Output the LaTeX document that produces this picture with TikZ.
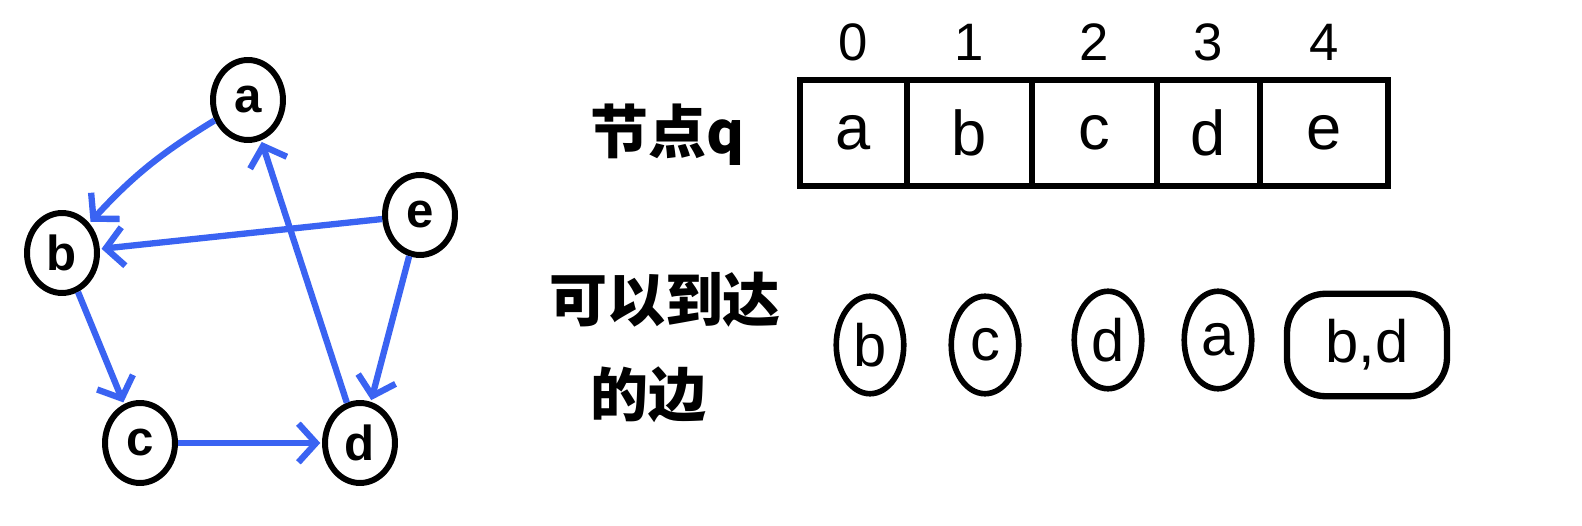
\documentclass[tikz,border=0pt]{standalone}
\usepackage{fontspec}
\setmainfont{Liberation Sans}
\newfontfamily\cjk{Noto Sans CJK SC}
\usetikzlibrary{arrows.meta,shapes.geometric}
\definecolor{edgeblue}{HTML}{3A63F2}
\tikzset{
  vertex/.style={draw,ellipse,line width=3.4pt,minimum width=1.4cm,minimum height=1.6cm,inner sep=0pt,font=\bfseries\fontsize{28}{30}\selectfont},
  edge/.style={edgeblue,line width=3.6pt,-{Straight Barb[length=10pt,width=22pt]},shorten >=1pt},
  cell/.style={draw,line width=3.4pt,minimum height=2.12cm,inner sep=0pt,font=\fontsize{36}{38}\selectfont},
  idx/.style={font=\fontsize{30}{32}\selectfont},
  label/.style={font=\cjk\bfseries\fontsize{33}{35}\selectfont},
  reach/.style={draw,ellipse,line width=3.2pt,minimum width=1.35cm,minimum height=1.95cm,inner sep=0pt,font=\fontsize{34}{36}\selectfont}
}
\begin{document}
\begin{tikzpicture}[x=0.02cm,y=-0.02cm]
  \useasboundingbox (0,0) rectangle (1582,526);
  % graph
  \node[vertex] (a) at (248,100) {a};
  \node[vertex] (b) at (62,253) {b};
  \node[vertex] (c) at (140,443) {c};
  \node[vertex] (d) at (360,443) {d};
  \node[vertex] (e) at (420,215) {e};
  \draw[edge] (a) to[bend right=8] (b);
  \draw[edge] (e) -- (b);
  \draw[edge] (b) -- (c);
  \draw[edge] (c) -- (d);
  \draw[edge] (d) -- (a);
  \draw[edge] (e) -- (d);
  % queue
  \node[label] (qname) at (668,135) {节点q};
  \foreach \i/\cx/\w/\t in {0/853.5/107/a,1/969.5/125/b,2/1094.5/125/c,3/1208.5/103/d,4/1324/128/e}{
    \node[cell,minimum width=\w*0.02cm] (q\i) at (\cx,133) {\t};
    \node[idx] (i\i) at (\cx,42) {\i};
  }
  % reachable
  \node[label] (lbl1) at (665,300) {可以到达};
  \node[label] (lbl2) at (648,395) {的边};
  \node[reach] (rb) at (870,345) {b};
  \node[reach] (rc) at (985,345) {c};
  \node[reach] (rd) at (1108,340) {d};
  \node[reach] (ra) at (1218,340) {a};
  \node[draw,line width=3.6pt,rounded corners=22pt,minimum width=3.2cm,minimum height=2.05cm,font=\fontsize{34}{36}\selectfont] (rbd) at (1367,345) {b,d};
\end{tikzpicture}
\end{document}
